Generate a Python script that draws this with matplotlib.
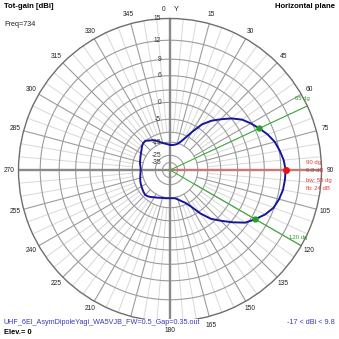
import numpy as np
import matplotlib
matplotlib.use("Agg")
import matplotlib.pyplot as plt
from matplotlib.transforms import offset_copy

# Horizontal-plane total gain (dBi), azimuth clockwise from +Y, 5 degree steps
azimuth_deg = list(range(0, 360, 5))
gain_dbi = [
    -16.6, -16.7, -16.3, -15.6, -14.0, -11.2, -7.5, -3.4, -0.9, 1.05,
    3.05, 4.7, 5.8, 6.8, 7.8, 8.6, 9.1, 9.55, 9.8, 9.75,
    9.65, 9.35, 8.9, 8.0, 6.8, 5.5, 3.3, 1.05, -1.05, -4.2,
    -8.1, -10.7, -12.2, -13.5, -14.5, -14.7, -14.75, -14.7, -14.5, -14.35,
    -14.0, -13.5, -12.95, -12.2, -11.5, -11.2, -11.5, -11.9, -12.25, -12.55,
    -12.9, -13.3, -13.7, -14.0, -14.2, -14.0, -13.6, -13.2, -12.9, -12.45,
    -11.95, -11.35, -10.5, -9.9, -9.8, -10.8, -11.5, -12.6, -13.9, -14.95,
    -15.6, -16.2,
]
peak_az = 90
peak_gain = 9.8
bw_az = [65, 120]
bw_gain = 6.8
front_back = 24
beamwidth = 55

ring_values = [15, 12, 9, 6, 3, 0, -5, -10, -15, -25, -35]
ring_labels = {15: "15", 12: "12", 9: "9", 6: "6", 0: "0",
               -5: "-5", -15: "-15", -25: "-25", -35: "-35"}
# rim labels every 15 deg; 195 sits under the file-name line and is left out
angle_ticks = [a for a in range(0, 360, 15) if a != 195]

title_left = "Tot-gain [dBi]"
title_right = "Horizontal plane"
freq_text = "Freq=734"
file_text = "UHF_6El_AsymDipoleYagi_WA5VJB_FW=0.5_Gap=0.35.out"
range_text = "-17 < dBi < 9.8"
elev_text = "Elev.= 0"

# radial scale: compressed log-like mapping, outer ring = TOP dBi
A, B, TOP = 0.051, -0.000184, 15.0


def fwd(g):
    x = np.asarray(g, dtype=float) - TOP
    with np.errstate(over="ignore", invalid="ignore"):
        return np.exp(A * x + B * x * x)


def inv(r):
    r = np.clip(np.asarray(r, dtype=float), 1e-12, None)
    L = np.log(r)
    disc = np.clip(A * A + 4 * B * L, 0, None)
    return TOP + (-A + np.sqrt(disc)) / (2 * B)


W = H = 339
fig = plt.figure(figsize=(W / 100, H / 100), dpi=100)
fig.patch.set_facecolor("white")
plt.rcParams["font.family"] = ["Liberation Sans", "DejaVu Sans"]

cx, cy, R = 170.0, 170.0, 151.5
ax = fig.add_axes([(cx - R) / W, (H - cy - R) / H, 2 * R / W, 2 * R / H],
                  projection="polar")
ax.set_theta_zero_location("N")
ax.set_theta_direction(-1)
ax.set_rscale("function", functions=(fwd, inv))
R_MIN = -150
ax.set_rlim(R_MIN, TOP)
ax.set_xticks([])
ax.set_yticks([])
ax.grid(False)
ax.spines["polar"].set_color("#6e6e6e")
ax.spines["polar"].set_linewidth(1.0)

th_full = np.linspace(0, 2 * np.pi, 721)
ring_col = "#9c9c9c"
for v in ring_values[1:]:
    ax.plot(th_full, np.full_like(th_full, v), color=ring_col, lw=0.8, zorder=1)

# spokes: minor every 5 deg, major every 15 deg
for a in range(0, 360, 5):
    th = np.deg2rad(a)
    if a % 90 == 0:
        continue
    if a % 15 == 0:
        ax.plot([th, th], [-15, TOP], color=ring_col, lw=0.8, zorder=1)
    else:
        ax.plot([th, th], [-10, TOP], color="#d8d8d8", lw=0.7, zorder=0.9)

# main axes
for a in (0, 90, 180, 270):
    th = np.deg2rad(a)
    ax.plot([th, th], [R_MIN, TOP], color="#8a8a8a", lw=1.7, zorder=1.5)

# beam markers
ax.plot([np.deg2rad(peak_az)] * 2, [R_MIN, 12.6], color="#e07070", lw=1.2, zorder=2)
for a in bw_az:
    ax.plot([np.deg2rad(a)] * 2, [R_MIN, TOP], color="#3fae3f", lw=0.8, zorder=2)

# radiation pattern
th_p = np.deg2rad(azimuth_deg + [azimuth_deg[0]])
g_p = gain_dbi + [gain_dbi[0]]
ax.plot(th_p, g_p, color="#16169a", lw=1.4, zorder=3)

ax.plot([np.deg2rad(peak_az)], [peak_gain], "o", color="#ee1111", ms=4, zorder=4)
ax.plot(np.deg2rad(bw_az), [bw_gain] * len(bw_az), "o", color="#22a022", ms=3.5, zorder=4)

# angle labels around the rim
label_r = float(inv(160.5 / R))
for a in angle_ticks:
    txt = str(a)
    tr = ax.transData
    if a == 0:
        tr = offset_copy(ax.transData, fig=fig, x=-6, y=0, units="dots")
    ax.text(np.deg2rad(a), label_r, txt, ha="center", va="center",
            fontsize=4.8, color="#222222", transform=tr, clip_on=False, zorder=2)
ax.text(0, label_r, "Y", ha="center", va="center", fontsize=5.2, color="#222222",
        transform=offset_copy(ax.transData, fig=fig, x=6, y=0, units="dots"),
        clip_on=False)

# ring value labels along the +Y axis
lab_tr = offset_copy(ax.transData, fig=fig, x=-9, y=0, units="dots")
for v, s in ring_labels.items():
    ax.text(0, v, s, ha="right", va="center", fontsize=4.8, color="#333333",
            transform=lab_tr, zorder=5)


def fxy(x, y):
    return x / W, 1 - y / H


fig.text(*fxy(4, 6), title_left, ha="left", va="center", fontsize=5.6,
         fontweight="bold", color="black")
fig.text(*fxy(335, 6), title_right, ha="right", va="center", fontsize=5.6,
         fontweight="bold", color="black")
fig.text(*fxy(4, 25), freq_text, ha="left", va="center", fontsize=5.2, color="#222222")
fig.text(*fxy(4, 323), file_text, ha="left", va="center", fontsize=5.2, color="#3a3ab8",
         zorder=10, bbox=dict(facecolor="white", edgecolor="none", pad=0.6))
fig.text(*fxy(335, 323), range_text, ha="right", va="center", fontsize=5.2, color="#3a3ab8")
fig.text(*fxy(4, 332), elev_text, ha="left", va="center", fontsize=5.4,
         fontweight="bold", color="black")

red = "#e03a3a"
info = [f"{peak_az} dg", f"{peak_gain} dB", f"bw: {beamwidth} dg", f"fb: {front_back} dB"]
for i, s in enumerate(info):
    fig.text(*fxy(306, 162 + 9 * i), s, ha="left", va="center", fontsize=4.3, color=red)

green = "#2a9e2a"
fig.text(*fxy(295, 98), f"{bw_az[0]} dg", ha="left", va="center", fontsize=4.3, color=green)
fig.text(*fxy(289, 237), f"{bw_az[1]} dg", ha="left", va="center", fontsize=4.3, color=green)

fig.savefig("out.png", dpi=100, facecolor="white")
